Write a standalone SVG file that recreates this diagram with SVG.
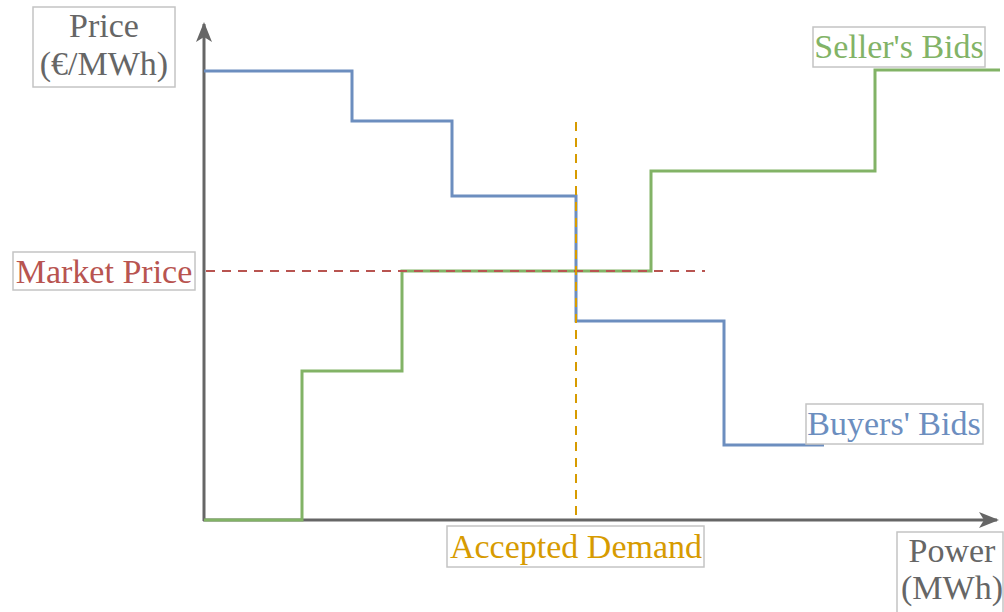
<svg xmlns="http://www.w3.org/2000/svg" width="1004" height="612" viewBox="0 0 1004 612">
<style>
.lbl{fill:#fff;stroke:#c4c4c4;stroke-width:1.5}
text{font-family:"Liberation Serif","Times New Roman",serif;font-size:34px;text-anchor:middle}
.axis{fill:none;stroke:#666;stroke-width:3}
.step{fill:none;stroke-width:3;stroke-linejoin:miter}
</style>
<defs>
<marker id="arr" viewBox="0 0 20 20" refX="18" refY="10" markerWidth="20" markerHeight="20" markerUnits="userSpaceOnUse" orient="auto">
<path d="M0,2 L20,10 L0,18 L5,10 Z" fill="#666"/>
</marker>
</defs>
<g id="connectors">
<line class="axis" x1="204" y1="521" x2="204" y2="24" marker-end="url(#arr)"/>
<line class="axis" x1="203" y1="520" x2="997" y2="520" marker-end="url(#arr)"/>
<polyline id="buyers-curve" class="step" stroke="#6c8ebf" points="204,71 352,71 352,121 452,121 452,196 576,196 576,321 724,321 724,445 824,445"/>
<polyline id="sellers-curve" class="step" stroke="#82b366" points="204,520 302,520 302,371 402,371 402,271 651,271 651,171 875,171 875,70 1000,70"/>
<line id="market-price-line" x1="206" y1="271" x2="705" y2="271" stroke="#b85450" stroke-width="2" stroke-dasharray="9,7"/>
<line id="accepted-demand-line" x1="576" y1="122" x2="576" y2="519" stroke="#d79b00" stroke-width="2" stroke-dasharray="9,7"/>
</g>
<g id="price-label">
<rect class="lbl" x="33" y="7" width="142" height="80"/>
<text x="104" y="37" fill="#666">Price</text>
<text x="104" y="75" fill="#666">(€/MWh)</text>
</g>
<g id="sellers-bids-label">
<rect class="lbl" x="813" y="27" width="172" height="40"/>
<text x="899" y="58" fill="#82b366">Seller's Bids</text>
</g>
<g id="market-price-label">
<rect class="lbl" x="13" y="252" width="182" height="38"/>
<text x="104" y="283" fill="#b85450">Market Price</text>
</g>
<g id="buyers-bids-label">
<rect class="lbl" x="806" y="404" width="177" height="40"/>
<text x="894" y="435" fill="#6c8ebf">Buyers' Bids</text>
</g>
<g id="accepted-demand-label">
<rect class="lbl" x="447" y="526" width="257" height="41"/>
<text x="576" y="558" fill="#d79b00">Accepted Demand</text>
</g>
<g id="power-label">
<rect class="lbl" x="897" y="532" width="106" height="84"/>
<text x="952" y="562" fill="#666">Power</text>
<text x="952" y="599" fill="#666">(MWh)</text>
</g>
</svg>
